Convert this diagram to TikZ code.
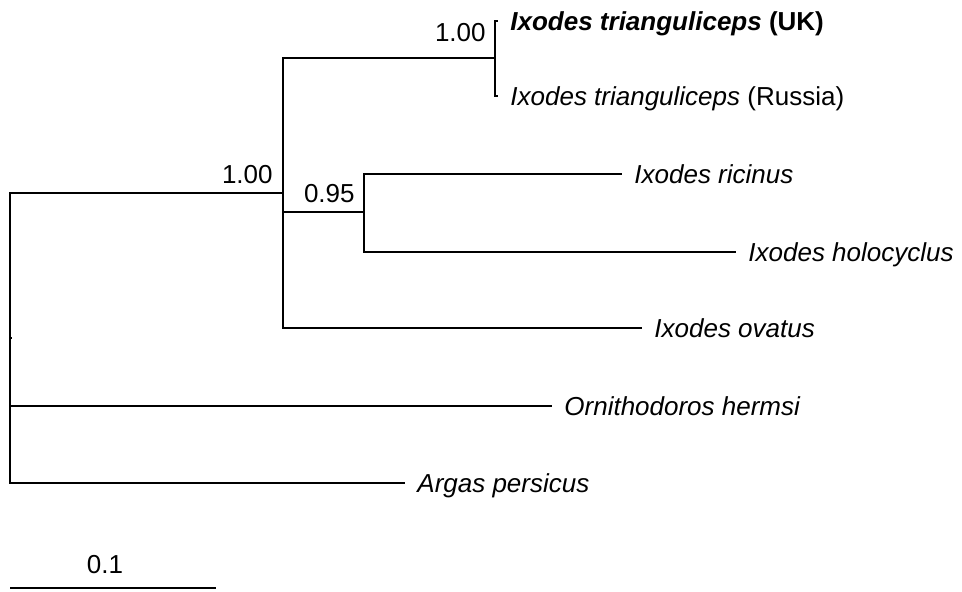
\documentclass[tikz,border=0pt]{standalone}
\usepackage{fontspec}
\setmainfont{Liberation Sans}
\usepackage{tikz}
\usetikzlibrary{positioning}
\newcommand{\treefont}{\fontsize{13}{15}\selectfont}
\tikzstyle{branch} = [draw, line width=1pt]
\tikzstyle{taxon} = [anchor=base west, inner sep=0pt, xshift=6pt, yshift=-4.7pt, font=\treefont\itshape]
\tikzstyle{support} = [anchor=base east, inner sep=0pt]

\begin{document}
\begin{tikzpicture}[x=0.5pt, y=-0.5pt, font=\treefont]
            \useasboundingbox (0,0) rectangle (962,591);

            % inner nodes of the tree
            \coordinate (root) at (10,338);
            \coordinate (ixo) at (283,193);
            \coordinate (tri) at (495,58);
            \coordinate (ric) at (364,212);

            % tips
            \coordinate (tuk) at (498,21);
            \coordinate (tru) at (498,96);
            \coordinate (tri2) at (622,174);
            \coordinate (thol) at (736,252);
            \coordinate (tova) at (642,328);
            \coordinate (torn) at (552,406);
            \coordinate (targ) at (405,483);

            \draw[branch] (root) |- (ixo);
            \draw[branch] (root) |- (torn);
            \draw[branch] (root) |- (targ);
            \draw[branch] (root) -- ++(2,0);
            \draw[branch] (ixo) |- (tri);
            \draw[branch] (ixo) |- (ric);
            \draw[branch] (ixo) |- (tova);
            \draw[branch] (tri) |- (tuk);
            \draw[branch] (tri) |- (tru);
            \draw[branch] (ric) |- (tri2);
            \draw[branch] (ric) |- (thol);

            \node[taxon] (luk) at (tuk) {\textbf{Ixodes trianguliceps \textup{(UK)}}};
            \node[taxon] (lru) at (tru) {Ixodes trianguliceps \textup{(Russia)}};
            \node[taxon] (lric) at (tri2) {Ixodes ricinus};
            \node[taxon] (lhol) at (thol) {Ixodes holocyclus};
            \node[taxon] (lova) at (tova) {Ixodes ovatus};
            \node[taxon] (lorn) at (torn) {Ornithodoros hermsi};
            \node[taxon] (larg) at (targ) {Argas persicus};

            \node[support] (bixo) at (273,183) {1.00};
            \node[support] (bric) at (355,202) {0.95};
            \node[support] (btri) at (486,41) {1.00};

            % scale bar
            \coordinate (s0) at (10,588);
            \coordinate (s1) at (216,588);
            \draw[branch] (s0) -- (s1);
            \node[anchor=base, inner sep=0pt] (slbl) at (105,573) {0.1};
          \end{tikzpicture}
\end{document}
